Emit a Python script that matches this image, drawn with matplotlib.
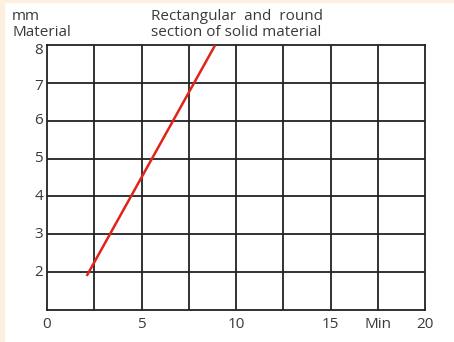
import matplotlib
matplotlib.use("Agg")
import matplotlib.pyplot as plt
from matplotlib.patches import Rectangle
import matplotlib.transforms as mtransforms

plt.rcParams['font.family'] = ['Open Sans', 'DejaVu Sans']

# data
line_x = [2.1, 8.9]
line_y = [1.9, 8.0]
x_ticks = [0, 5, 10, 15, 20]
x_tick_labels = ["0", "5", "10", "15", "20"]
y_ticks = [2, 3, 4, 5, 6, 7, 8]
y_tick_labels = ["2", "3", "4", "5", "6", "7", "8"]
x_unit_pos = 17.5
x_unit = "Min"
y_label = "mm\nMaterial"
title = "Rectangular  and  round\nsection of solid material"

# per-label vertical nudges in pixels (style only)
y_label_nudge = [0, 0, 0, 0, 0, -4, -5]

W, H = 454, 342
fs = 11
fig = plt.figure(figsize=(W / 100, H / 100), dpi=100)
fig.patch.set_facecolor("white")
cream = "#fdf0df"
fig.patches.append(Rectangle((0, 0), 4 / W, 1, transform=fig.transFigure, color=cream, zorder=0))
fig.patches.append(Rectangle((0, 1 - 2 / H), 1, 2 / H, transform=fig.transFigure, color=cream, zorder=0))

l, r, t, b = 47, 425, 45, 310
ax = fig.add_axes([l / W, 1 - b / H, (r - l) / W, (b - t) / H])
ax.set_xlim(0, 20)
ax.set_ylim(1, 8)
gc = "#222222"
for xv in [i * 2.5 for i in range(1, 8)]:
    ax.axvline(xv, color=gc, lw=1.3, zorder=1)
for yv in range(2, 8):
    ax.axhline(yv, color=gc, lw=1.3, zorder=1)
for s in ax.spines.values():
    s.set_color(gc)
    s.set_linewidth(1.3)

ax.plot(line_x, line_y, color="#e02418", lw=1.8, zorder=3, solid_capstyle="butt")

ax.set_xticks([])
ax.set_yticks([])
tc = "#3a3a3a"
off = mtransforms.ScaledTranslation(0, -7 / 100, fig.dpi_scale_trans)
for xv, lab in zip(x_ticks, x_tick_labels):
    ax.text(xv, 1, lab, ha="center", va="top", fontsize=fs, color=tc,
            transform=ax.transData + off)
ax.text(x_unit_pos, 1, x_unit, ha="center", va="top", fontsize=fs, color=tc,
        transform=ax.transData + off)

for yv, lab, nd in zip(y_ticks, y_tick_labels, y_label_nudge):
    offy = mtransforms.ScaledTranslation(-4 / 100, nd / 100, fig.dpi_scale_trans)
    ax.text(0, yv, lab, ha="right", va="center", fontsize=fs, color=tc,
            transform=ax.transData + offy)

fig.text(12 / W, 1 - 9 / H, y_label, ha="left", va="top", fontsize=fs,
         color=tc, linespacing=1.08)
fig.text(151 / W, 1 - 9 / H, title, ha="left", va="top", fontsize=fs,
         color=tc, linespacing=1.08)

fig.savefig("out.png", dpi=100, facecolor=fig.get_facecolor())
